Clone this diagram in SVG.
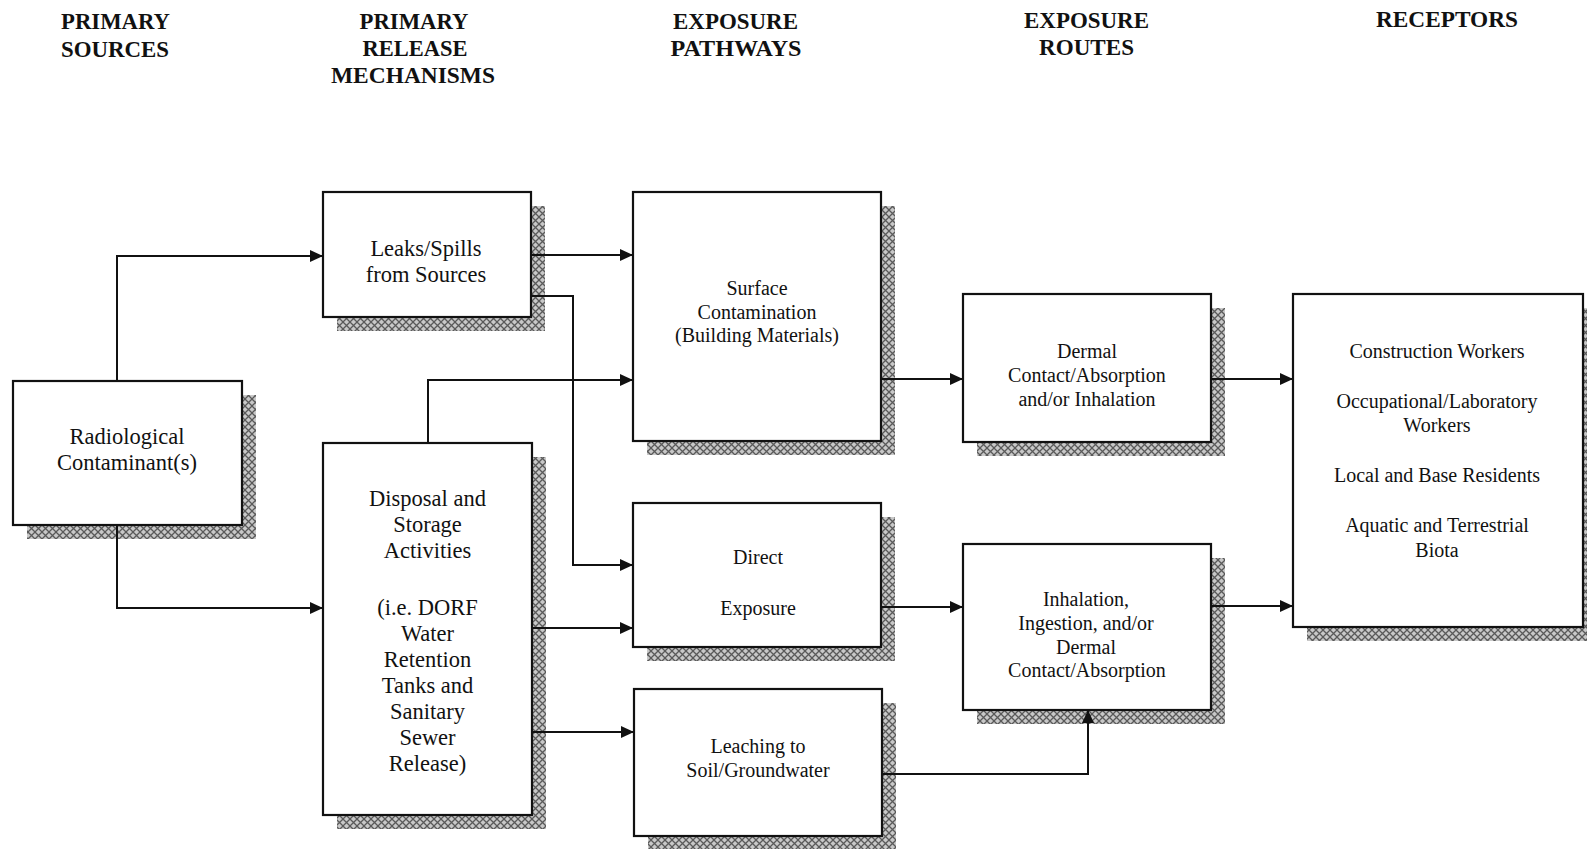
<svg xmlns="http://www.w3.org/2000/svg" width="1587" height="849" viewBox="0 0 1587 849">
  <style>
    .hdr { font-family: "Liberation Serif", "Times New Roman", serif; font-weight: bold; font-size: 23px; fill: #111; text-anchor: middle; }
    .box { fill: #fff; stroke: #111; stroke-width: 2.2; }
    .shadow { fill: url(#hatch); }
    .lg { font-family: "Liberation Serif", "Times New Roman", serif; font-size: 22.5px; fill: #111; text-anchor: middle; }
    .sm { font-family: "Liberation Serif", "Times New Roman", serif; font-size: 20px; fill: #111; text-anchor: middle; }
    .wire { fill: none; stroke: #111; stroke-width: 2; }
  </style>
  <defs>
    <!-- cross-hatched fill used for the drop shadows -->
    <pattern id="hatch" width="7" height="7" patternUnits="userSpaceOnUse">
      <rect width="7" height="7" fill="#c8c8c8"/>
      <path d="M0,0 L7,7 M7,0 L0,7" stroke="#5a5a5a" stroke-width="1.3"/>
    </pattern>
    <marker id="arr" viewBox="0 0 13 12" refX="13" refY="6" markerWidth="13" markerHeight="12" markerUnits="userSpaceOnUse" orient="auto">
      <path d="M0,0 L13,6 L0,12 z" fill="#111"/>
    </marker>
  </defs>

  <rect width="1587" height="849" fill="#fff"/>

  <!-- column headings -->
  <g id="headings">
    <text class="hdr" x="115.5" y="28.5" textLength="109" lengthAdjust="spacingAndGlyphs">PRIMARY</text>
    <text class="hdr" x="115" y="57" textLength="108" lengthAdjust="spacingAndGlyphs">SOURCES</text>
    <text class="hdr" x="414" y="28.5" textLength="109" lengthAdjust="spacingAndGlyphs">PRIMARY</text>
    <text class="hdr" x="415" y="56" textLength="105" lengthAdjust="spacingAndGlyphs">RELEASE</text>
    <text class="hdr" x="413" y="83" textLength="164" lengthAdjust="spacingAndGlyphs">MECHANISMS</text>
    <text class="hdr" x="735.5" y="28.5" textLength="125" lengthAdjust="spacingAndGlyphs">EXPOSURE</text>
    <text class="hdr" x="736" y="56" textLength="131" lengthAdjust="spacingAndGlyphs">PATHWAYS</text>
    <text class="hdr" x="1086.5" y="27.5" textLength="125" lengthAdjust="spacingAndGlyphs">EXPOSURE</text>
    <text class="hdr" x="1086.5" y="55" textLength="95" lengthAdjust="spacingAndGlyphs">ROUTES</text>
    <text class="hdr" x="1447" y="26.5" textLength="142" lengthAdjust="spacingAndGlyphs">RECEPTORS</text>
  </g>

  <!-- nodes: shadow first, then the framed box and its label -->
  <g id="radiological">
    <rect class="shadow" x="27" y="395" width="229" height="144"/>
    <rect class="box" x="13" y="381" width="229" height="144"/>
    <text class="lg" x="127" y="444">Radiological</text>
    <text class="lg" x="127" y="470">Contaminant(s)</text>
  </g>

  <g id="leaks">
    <rect class="shadow" x="337" y="206" width="208" height="125"/>
    <rect class="box" x="323" y="192" width="208" height="125"/>
    <text class="lg" x="426" y="256">Leaks/Spills</text>
    <text class="lg" x="426" y="282">from Sources</text>
  </g>

  <g id="disposal">
    <rect class="shadow" x="337" y="457" width="209" height="372"/>
    <rect class="box" x="323" y="443" width="209" height="372"/>
    <text class="lg" x="427.5" y="506">Disposal and</text>
    <text class="lg" x="427.5" y="532">Storage</text>
    <text class="lg" x="427.5" y="558">Activities</text>
    <text class="lg" x="427.5" y="615">(i.e. DORF</text>
    <text class="lg" x="427.5" y="641">Water</text>
    <text class="lg" x="427.5" y="667">Retention</text>
    <text class="lg" x="427.5" y="693">Tanks and</text>
    <text class="lg" x="427.5" y="719">Sanitary</text>
    <text class="lg" x="427.5" y="745">Sewer</text>
    <text class="lg" x="427.5" y="771">Release)</text>
  </g>

  <g id="surface">
    <rect class="shadow" x="647" y="206" width="248" height="249"/>
    <rect class="box" x="633" y="192" width="248" height="249"/>
    <text class="sm" x="757" y="295">Surface</text>
    <text class="sm" x="757" y="318.5">Contamination</text>
    <text class="sm" x="757" y="342">(Building Materials)</text>
  </g>

  <g id="direct">
    <rect class="shadow" x="647" y="517" width="248" height="144"/>
    <rect class="box" x="633" y="503" width="248" height="144"/>
    <text class="sm" x="758" y="564">Direct</text>
    <text class="sm" x="758" y="615">Exposure</text>
  </g>

  <g id="leaching">
    <rect class="shadow" x="648" y="703" width="248" height="147"/>
    <rect class="box" x="634" y="689" width="248" height="147"/>
    <text class="sm" x="758" y="753">Leaching to</text>
    <text class="sm" x="758" y="777">Soil/Groundwater</text>
  </g>

  <g id="dermal">
    <rect class="shadow" x="977" y="308" width="248" height="148"/>
    <rect class="box" x="963" y="294" width="248" height="148"/>
    <text class="sm" x="1087" y="358">Dermal</text>
    <text class="sm" x="1087" y="382">Contact/Absorption</text>
    <text class="sm" x="1087" y="406">and/or Inhalation</text>
  </g>

  <g id="inhalation">
    <rect class="shadow" x="977" y="558" width="248" height="166"/>
    <rect class="box" x="963" y="544" width="248" height="166"/>
    <text class="sm" x="1086" y="606">Inhalation,</text>
    <text class="sm" x="1086" y="630">Ingestion, and/or</text>
    <text class="sm" x="1086" y="654">Dermal</text>
    <text class="sm" x="1087" y="677">Contact/Absorption</text>
  </g>

  <g id="receptors">
    <rect class="shadow" x="1307" y="308" width="290" height="333"/>
    <rect class="box" x="1293" y="294" width="290" height="333"/>
    <text class="sm" x="1437" y="358">Construction Workers</text>
    <text class="sm" x="1437" y="408">Occupational/Laboratory</text>
    <text class="sm" x="1437" y="432">Workers</text>
    <text class="sm" x="1437" y="482">Local and Base Residents</text>
    <text class="sm" x="1437" y="532">Aquatic and Terrestrial</text>
    <text class="sm" x="1437" y="557">Biota</text>
  </g>

  <!-- connectors -->
  <g id="connectors" class="wire" marker-end="url(#arr)">
    <path d="M117,381 V256 H323"/>
    <path d="M117,525 V608 H323"/>
    <path d="M531,255 H633"/>
    <path d="M531,296 H573 V565 H633"/>
    <path d="M428,443 V380 H633"/>
    <path d="M532,628 H633"/>
    <path d="M532,732 H634"/>
    <path d="M881,379 H963"/>
    <path d="M881,607 H963"/>
    <path d="M882,774 H1088 V710"/>
    <path d="M1211,379 H1293"/>
    <path d="M1211,606 H1293"/>
  </g>
</svg>
